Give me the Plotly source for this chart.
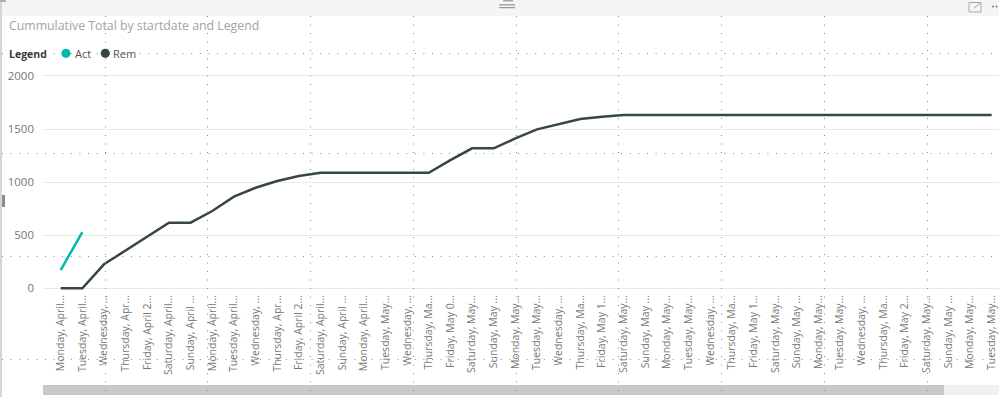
import plotly.graph_objects as go

# ---- data ----
dates = [
    "Monday, April 16, 2018", "Tuesday, April 17, 2018", "Wednesday, April 18, 2018",
    "Thursday, April 19, 2018", "Friday, April 20, 2018", "Saturday, April 21, 2018",
    "Sunday, April 22, 2018", "Monday, April 23, 2018", "Tuesday, April 24, 2018",
    "Wednesday, April 25, 2018", "Thursday, April 26, 2018", "Friday, April 27, 2018",
    "Saturday, April 28, 2018", "Sunday, April 29, 2018", "Monday, April 30, 2018",
    "Tuesday, May 01, 2018", "Wednesday, May 02, 2018", "Thursday, May 03, 2018",
    "Friday, May 04, 2018", "Saturday, May 05, 2018", "Sunday, May 06, 2018",
    "Monday, May 07, 2018", "Tuesday, May 08, 2018", "Wednesday, May 09, 2018",
    "Thursday, May 10, 2018", "Friday, May 11, 2018", "Saturday, May 12, 2018",
    "Sunday, May 13, 2018", "Monday, May 14, 2018", "Tuesday, May 15, 2018",
    "Wednesday, May 16, 2018", "Thursday, May 17, 2018", "Friday, May 18, 2018",
    "Saturday, May 19, 2018", "Sunday, May 20, 2018", "Monday, May 21, 2018",
    "Tuesday, May 22, 2018", "Wednesday, May 23, 2018", "Thursday, May 24, 2018",
    "Friday, May 25, 2018", "Saturday, May 26, 2018", "Sunday, May 27, 2018",
    "Monday, May 28, 2018", "Tuesday, May 29, 2018",
]
tick_labels = [
    "Monday, April...", "Tuesday, April...", "Wednesday, ...", "Thursday, Apr...",
    "Friday, April 2...", "Saturday, April...", "Sunday, April ...",
    "Monday, April...", "Tuesday, April...", "Wednesday, ...", "Thursday, Apr...",
    "Friday, April 2...", "Saturday, April...", "Sunday, April ...",
    "Monday, April...", "Tuesday, May...", "Wednesday, ...", "Thursday, Ma...",
    "Friday, May 0...", "Saturday, May...", "Sunday, May ...",
    "Monday, May...", "Tuesday, May...", "Wednesday, ...", "Thursday, Ma...",
    "Friday, May 1...", "Saturday, May...", "Sunday, May ...",
    "Monday, May...", "Tuesday, May...", "Wednesday, ...", "Thursday, Ma...",
    "Friday, May 1...", "Saturday, May...", "Sunday, May ...",
    "Monday, May...", "Tuesday, May...", "Wednesday, ...", "Thursday, Ma...",
    "Friday, May 2...", "Saturday, May...", "Sunday, May ...",
    "Monday, May...", "Tuesday, May...",
]
act_values = [172, 530] + [None] * 42
rem_values = [
    0, 0, 226, 355, 487, 618, 618, 728, 863, 947, 1010, 1057, 1088, 1088,
    1088, 1088, 1088, 1088, 1208, 1318, 1318, 1412, 1497, 1547, 1594, 1616, 1633,
    1633, 1633, 1633, 1633, 1633, 1633, 1633, 1633, 1633, 1633, 1633, 1633,
    1633, 1633, 1633, 1633, 1633,
]
y_ticks = [0, 500, 1000, 1500, 2000]
series_names = ["Act", "Rem"]
series_colors = ["#01B8AA", "#374649"]

# ---- geometry ----
W, H = 999, 397
ML, MR, MT, MB = 43, 0, 66, 105
PW, PH = W - ML - MR, H - MT - MB


def px(x):
    return (x - ML) / PW


def py(y):
    return (H - MB - y) / PH


FONT = "Open Sans, Noto Sans, sans-serif"

fig = go.Figure()
fig.add_trace(go.Scatter(x=dates, y=act_values, mode="lines", name=series_names[0],
                         line=dict(color=series_colors[0], width=2.5), showlegend=False))
fig.add_trace(go.Scatter(x=dates, y=rem_values, mode="lines", name=series_names[1],
                         line=dict(color=series_colors[1], width=2.5), showlegend=False))

shapes = []
# header bar
shapes.append(dict(type="rect", xref="paper", yref="paper", x0=px(0), x1=px(W), y0=py(0), y1=py(16),
                   fillcolor="#f5f5f5", line=dict(width=0), layer="below"))
# scrollbar track + thumb
shapes.append(dict(type="rect", xref="paper", yref="paper", x0=px(944), x1=px(W), y0=py(385), y1=py(395),
                   fillcolor="#f0f0f0", line=dict(width=0), layer="below"))
shapes.append(dict(type="rect", xref="paper", yref="paper", x0=px(43), x1=px(944), y0=py(385), y1=py(395),
                   fillcolor="#c8c8c8", line=dict(width=0), layer="below"))
# left border + handle
shapes.append(dict(type="line", xref="paper", yref="paper", x0=px(1), x1=px(1), y0=py(0), y1=py(H),
                   line=dict(color="#d6d6d6", width=2), layer="below"))
shapes.append(dict(type="rect", xref="paper", yref="paper", x0=px(2), x1=px(5), y0=py(195), y1=py(207),
                   fillcolor="#8c8c8c", line=dict(width=0)))
shapes.append(dict(type="line", xref="paper", yref="paper", x0=px(0), x1=px(6), y0=py(1), y1=py(1),
                   line=dict(color="#b0b0b0", width=2)))
# drag handle at top centre
for (xa, xb, yy) in [(503, 513, 0.8), (499, 515, 4.8), (499, 515, 7.6)]:
    shapes.append(dict(type="line", xref="paper", yref="paper", x0=px(xa), x1=px(xb), y0=py(yy), y1=py(yy),
                       line=dict(color="#9a9a9a", width=1.3)))
# focus-mode icon top right
shapes.append(dict(type="rect", xref="paper", yref="paper", x0=px(969), x1=px(981), y0=py(2.5), y1=py(12),
                   line=dict(color="#a8a8a8", width=1)))
shapes.append(dict(type="line", xref="paper", yref="paper", x0=px(974), x1=px(981), y0=py(8), y1=py(2.5),
                   line=dict(color="#a8a8a8", width=1)))
for cx in [993, 996.5]:
    shapes.append(dict(type="circle", xref="paper", yref="paper", x0=px(cx - 0.9), x1=px(cx + 0.9),
                       y0=py(6.5 - 0.9), y1=py(6.5 + 0.9), fillcolor="#707070", line=dict(width=0)))
# canvas dotted grid (on top)
for gx in [105.5, 207.5, 310.5, 413.5, 516.5, 618.5, 721.5, 824.5, 927.5]:
    shapes.append(dict(type="line", xref="paper", yref="paper", x0=px(gx), x1=px(gx), y0=py(16), y1=py(H),
                       line=dict(color="#8a8a8a", width=1, dash="1px,7.5px"), layer="above"))
for gy in [53.5, 153.5, 256.5, 359.5]:
    shapes.append(dict(type="line", xref="paper", yref="paper", x0=px(2), x1=px(W), y0=py(gy), y1=py(gy),
                       line=dict(color="#8a8a8a", width=1, dash="1px,7.6px"), layer="above"))
# legend markers
for cx, col in [(66, series_colors[0]), (105.3, series_colors[1])]:
    shapes.append(dict(type="circle", xref="paper", yref="paper", x0=px(cx - 4.6), x1=px(cx + 4.6),
                       y0=py(53.3 + 4.6), y1=py(53.3 - 4.6), fillcolor=col, line=dict(width=0)))

annotations = [
    dict(text="Cummulative Total by startdate and Legend", xref="paper", yref="paper",
         x=px(7), y=py(25), xanchor="left", yanchor="middle", showarrow=False,
         font=dict(family=FONT, size=12.3, color="#a3a3a3")),
    dict(text="<b>Legend</b>", xref="paper", yref="paper", x=px(7), y=py(53.5), xanchor="left",
         yanchor="middle", showarrow=False, font=dict(family=FONT, size=10.5, color="#3a3a3a")),
    dict(text=series_names[0], xref="paper", yref="paper", x=px(72.5), y=py(53.5), xanchor="left",
         yanchor="middle", showarrow=False, font=dict(family=FONT, size=11, color="#555555")),
    dict(text=series_names[1], xref="paper", yref="paper", x=px(111), y=py(53.5), xanchor="left",
         yanchor="middle", showarrow=False, font=dict(family=FONT, size=11, color="#555555")),
]

fig.update_layout(
    width=W, height=H,
    margin=dict(l=ML, r=MR, t=MT, b=MB, pad=0),
    paper_bgcolor="white", plot_bgcolor="white",
    showlegend=False,
    shapes=shapes, annotations=annotations,
    font=dict(family=FONT, color="#777777"),
    xaxis=dict(type="category", range=[-0.818, 43.34], tickmode="array", tickvals=dates,
               ticktext=tick_labels, tickangle=-90, showgrid=False, zeroline=False,
               showline=False, ticks="", tickfont=dict(size=10.5, color="#777777")),
    yaxis=dict(range=[-35, 2094], tickvals=y_ticks, showgrid=True, gridcolor="#e9e9e9",
               gridwidth=1, zeroline=False, showline=False, ticks="",
               tickfont=dict(size=11.5, color="#777777"), ticklabelstandoff=8),
)

fig.write_html("out.html", config={"displayModeBar": False},
               post_script="document.body.style.margin='0';document.body.style.overflow='hidden';")
